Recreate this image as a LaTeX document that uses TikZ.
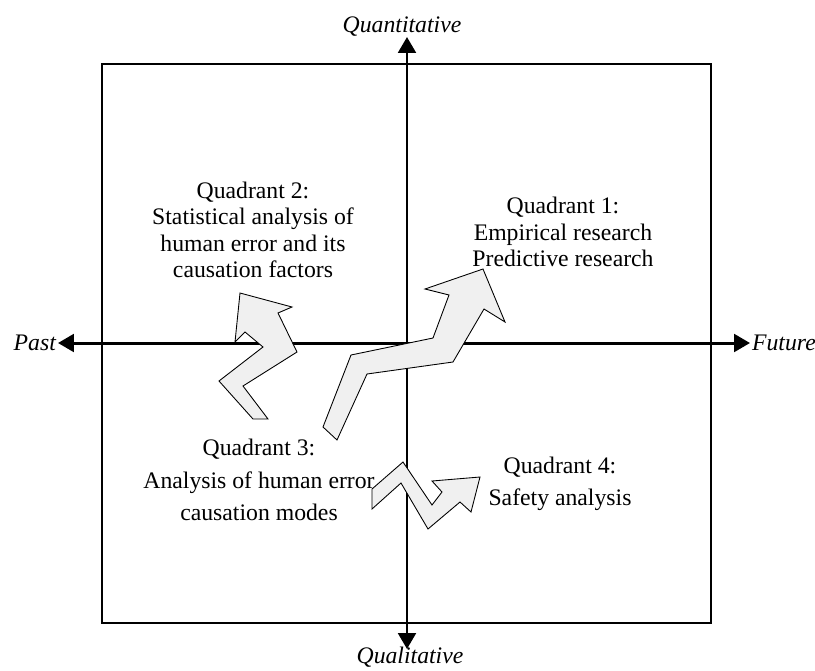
\documentclass[tikz,border=0pt]{standalone}
\usepackage{fontspec}
\setmainfont{Liberation Serif}
\usetikzlibrary{arrows.meta,positioning}
\definecolor{arrowgray}{RGB}{240,240,240}

\tikzset{
  quadtext/.style={align=center,inner sep=0pt,font=\fontsize{13.5}{15}\selectfont},
  axislabel/.style={inner sep=0pt,font=\fontsize{13.5}{15}\selectfont\itshape},
  axisline/.style={line width=1.7pt,{Triangle[length=9pt,width=10pt]}-{Triangle[length=9pt,width=10pt]}},
  frameline/.style={line width=1.1pt},
  fatarrow/.style={draw,fill=arrowgray,line width=0.5pt,line join=miter},
}

\begin{document}
\begin{tikzpicture}[x=0.02cm,y=-0.02cm]
        \useasboundingbox (0,0) rectangle (815,670);

        % axis ends
        \coordinate (w) at (58,343);
        \coordinate (e) at (750,343);
        \coordinate (n) at (407,37);
        \coordinate (s) at (407,649);

        % frame
        \draw[frameline] (102,64) rectangle (711,623);

        % axes
        \draw[axisline] (w) -- (e);
        \draw[axisline] (s) -- (n);

        \node[axislabel,left=1pt of w] (past) {Past};
        \node[axislabel,right=1pt of e] (future) {Future};
        \node[axislabel,anchor=south] (quant) at (402,37) {Quantitative};
        \node[axislabel,anchor=north] (qual) at (410,647) {Qualitative};

        % quadrant texts
        \node[quadtext] (q1) at (563,232) {Quadrant 1:\\Empirical research\\Predictive research};
        \node[quadtext,font=\fontsize{13.5}{15.1}\selectfont] (q2) at (253,230) {Quadrant 2:\\Statistical analysis of\\human error and its\\causation factors};
        \node[quadtext,font=\fontsize{13.5}{18.5}\selectfont] (q3) at (259,480) {Quadrant 3:\\Analysis of human error\\causation modes};
        \node[quadtext,font=\fontsize{13.5}{18.5}\selectfont] (q4) at (560,484) {Quadrant 4:\\Safety analysis};

        % block arrows
        \draw[fatarrow] (240,293) -- (235,342) -- (245,332) -- (263,347) -- (219,381)
                -- (253,419) -- (268,419) -- (243,386) -- (297,352) -- (278,313)
                -- (292,307) -- cycle;
        \draw[fatarrow] (483,269) -- (505,322) -- (484,309) -- (453,362) -- (367,374)
                -- (337,440) -- (323,427) -- (351,355) -- (433,338) -- (449,295)
                -- (425,289) -- cycle;
        \draw[fatarrow] (372,509) -- (372,489) -- (403,462) -- (432,505) -- (442,492)
                -- (432,481) -- (480,477) -- (471,512) -- (460,502) -- (428,529)
                -- (401,483) -- cycle;
\end{tikzpicture}
\end{document}
